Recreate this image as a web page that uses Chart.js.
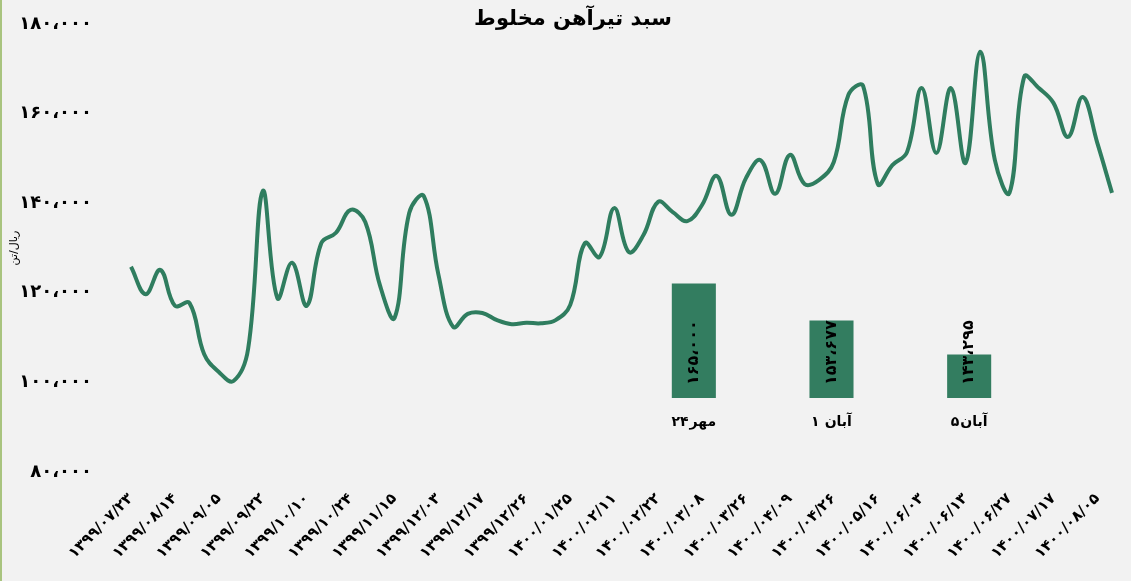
<!DOCTYPE html>
<html lang="fa">
<head>
<meta charset="utf-8">
<script src="https://cdn.jsdelivr.net/npm/chart.js@4"></script>
<style>
  html, body { margin: 0; padding: 0; background: #f2f2f2; }
  #wrap { position: relative; width: 1131px; height: 581px; overflow: hidden; }
  #main { position: absolute; left: 0; top: 0; }
  #inset { position: absolute; left: 625px; top: 267px; }
  .edge { position: absolute; left: 0; top: 0; width: 2px; height: 581px; background: #a9c47f; }
</style>
</head>
<body>
<div id="wrap">
  <canvas id="main" width="1131" height="581"></canvas>
  <canvas id="inset" width="413" height="171"></canvas>
  <div class="edge"></div>
</div>
<script>
const chartTitle = 'سبد تیرآهن مخلوط'
const unitLabel = 'ریال/تن'

// every third point gets a date label
const tickDates = ['۱۳۹۹/۰۷/۲۳', '۱۳۹۹/۰۸/۱۴', '۱۳۹۹/۰۹/۰۵', '۱۳۹۹/۰۹/۲۲', '۱۳۹۹/۱۰/۱۰', '۱۳۹۹/۱۰/۲۴',
  '۱۳۹۹/۱۱/۱۵', '۱۳۹۹/۱۲/۰۳', '۱۳۹۹/۱۲/۱۷', '۱۳۹۹/۱۲/۲۶', '۱۴۰۰/۰۱/۲۵', '۱۴۰۰/۰۲/۱۱', '۱۴۰۰/۰۲/۲۲',
  '۱۴۰۰/۰۳/۰۸', '۱۴۰۰/۰۳/۲۶', '۱۴۰۰/۰۴/۰۹', '۱۴۰۰/۰۴/۲۶', '۱۴۰۰/۰۵/۱۶', '۱۴۰۰/۰۶/۰۳', '۱۴۰۰/۰۶/۱۳',
  '۱۴۰۰/۰۶/۲۷', '۱۴۰۰/۰۷/۱۷', '۱۴۰۰/۰۸/۰۵']

const prices = [125800, 119700, 125100, 117100, 117700, 106300, 102300, 100300, 107500, 142700,
  118800, 126700, 117100, 131100, 133400, 138500, 135800, 121700, 114400, 137800,
  141600, 124000, 112400, 115300, 115500, 113900, 113000, 113300, 113200, 113900,
  117300, 131100, 128000, 138900, 129100, 132900, 140300, 138000, 136000, 139600,
  146100, 137400, 145600, 149600, 142100, 150800, 144300, 145200, 149200, 164200,
  166200, 144300, 148500, 151400, 165700, 151200, 165700, 149000, 173800, 149600,
  142300, 168200, 165700, 162400, 154800, 163700, 153400, 142300]

const barLabels = ['۲۴مهر', '۱ آبان', '۵آبان']
const barValues = [165000, 153677, 143295]

const faDigits = '۰۱۲۳۴۵۶۷۸۹'
function faNum(v) {
  const s = Math.round(v).toString().replace(/\B(?=(\d{3})+(?!\d))/g, '،')
  return s.replace(/\d/g, d => faDigits[d])
}

const green = '#2f7d5f'
const font = 'DejaVu Sans'
const labels = prices.map((p, i) => i % 3 === 0 ? tickDates[i / 3] : '')

// scales report no extra padding so the plot keeps the fixed layout padding
function noPad(s) {
  s.paddingTop = 0
  s.paddingBottom = 0
  s.paddingLeft = 0
  s.paddingRight = 0
}

const titlePlugin = {
  id: 'chartTitle',
  afterDraw(chart) {
    const ctx = chart.ctx
    ctx.save()
    ctx.font = `bold 21px "${font}"`
    ctx.fillStyle = '#000'
    ctx.textAlign = 'center'
    ctx.textBaseline = 'middle'
    ctx.fillText(chartTitle, 573, 20)
    ctx.restore()
  }
}

new Chart(document.getElementById('main'), {
  type: 'line',
  data: {
    labels: labels,
    datasets: [{
      data: prices,
      borderColor: green,
      borderWidth: 4,
      pointRadius: 0,
      tension: 0.4,
      fill: false
    }]
  },
  options: {
    responsive: false,
    animation: false,
    devicePixelRatio: 1,
    layout: { padding: { top: 24, right: 19, bottom: 0, left: 0 } },
    plugins: { legend: { display: false }, tooltip: { enabled: false } },
    scales: {
      x: {
        grid: { display: false, drawTicks: false },
        border: { display: false },
        ticks: {
          autoSkip: false, minRotation: 45, maxRotation: 45, padding: 18,
          color: '#000', font: { family: font, weight: 'bold', size: 15 }
        },
        afterFit: s => { s.height = 109; noPad(s) }
      },
      y: {
        min: 80000,
        max: 180000,
        grid: { display: false, drawTicks: false },
        border: { display: false },
        ticks: {
          stepSize: 20000, padding: 39, color: '#000',
          font: { family: font, weight: 'bold', size: 18 },
          callback: v => faNum(v)
        },
        title: {
          display: true, text: unitLabel, color: '#000',
          font: { family: font, size: 11 }, padding: { top: 8, bottom: 0 }
        },
        afterFit: s => { s.width = 131; noPad(s) }
      }
    }
  },
  plugins: [titlePlugin]
})

// day number drawn left of the month name, like the source
function drawDayLabel(ctx, text, cx, cy) {
  const m = text.match(/^([۰-۹]+)(\s*)(.*)$/)
  const day = m[1]
  const gap = m[2] ? 5 : 1
  const month = m[3]
  const wDay = ctx.measureText(day).width
  const wMonth = ctx.measureText(month).width
  const x0 = cx - (wDay + gap + wMonth) / 2
  ctx.textAlign = 'left'
  ctx.fillText(day, x0, cy)
  ctx.fillText(month, x0 + wDay + gap, cy)
}

const barTextPlugin = {
  id: 'barText',
  afterDatasetsDraw(chart) {
    const ctx = chart.ctx
    const base = chart.chartArea.bottom
    chart.getDatasetMeta(0).data.forEach((bar, i) => {
      ctx.save()
      ctx.fillStyle = '#000'
      ctx.font = `bold 16px "${font}"`
      ctx.translate(bar.x, base - 13)
      ctx.rotate(-Math.PI / 2)
      ctx.textAlign = 'left'
      ctx.textBaseline = 'middle'
      ctx.fillText(faNum(barValues[i]), 0, 0)
      ctx.restore()

      ctx.save()
      ctx.direction = 'ltr'
      ctx.fillStyle = '#000'
      ctx.font = `bold 14px "${font}"`
      ctx.textBaseline = 'middle'
      drawDayLabel(ctx, barLabels[i], bar.x, base + 24)
      ctx.restore()
    })
  }
}

new Chart(document.getElementById('inset'), {
  type: 'bar',
  data: {
    labels: barLabels,
    datasets: [{
      data: barValues,
      backgroundColor: '#337d60',
      categoryPercentage: 1,
      barPercentage: 0.32
    }]
  },
  options: {
    responsive: false,
    animation: false,
    devicePixelRatio: 1,
    layout: { padding: { top: 0, right: 0, bottom: 40, left: 0 } },
    plugins: { legend: { display: false }, tooltip: { enabled: false } },
    scales: {
      x: { display: false },
      y: { display: false, min: 130000, max: 170000 }
    }
  },
  plugins: [barTextPlugin]
})
</script>
</body>
</html>
